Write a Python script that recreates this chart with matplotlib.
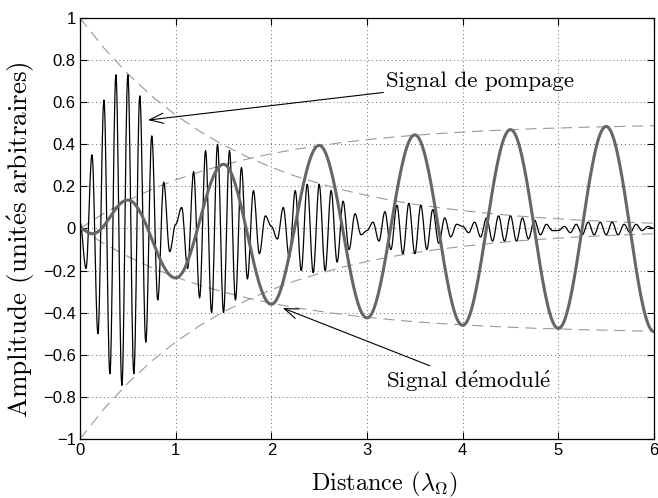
import matplotlib.pyplot as plt
import numpy as np

plt.rcParams['mathtext.fontset'] = 'cm'
plt.rcParams['font.family'] = ['Liberation Sans', 'DejaVu Sans']

# dashed envelopes, sampled every quarter wavelength
env_x = np.linspace(0, 6, 25)
env_decay = [1.00, 0.857, 0.735, 0.629, 0.539, 0.462, 0.396, 0.340, 0.291,
             0.249, 0.214, 0.183, 0.157, 0.134, 0.115, 0.099, 0.085, 0.073,
             0.062, 0.053, 0.046, 0.039, 0.034, 0.029, 0.025]
env_grow = [0.0, 0.072, 0.133, 0.186, 0.231, 0.269, 0.302, 0.330, 0.355,
            0.376, 0.393, 0.409, 0.422, 0.433, 0.443, 0.451, 0.458, 0.464,
            0.469, 0.474, 0.477, 0.481, 0.483, 0.486, 0.488]

# pump signal: one extremum every half carrier period (1/16 of lambda)
pump_step = 1.0 / 16
pump_ext = [
    0.03, -0.19, 0.35, -0.50, 0.61, -0.69, 0.73, -0.745, 0.73, -0.69, 0.63, -0.54, 0.44, -0.34, 0.22, -0.11,
    0.02, 0.10, -0.19, 0.27, -0.33, 0.37, -0.40, 0.40, -0.40, 0.37, -0.34, 0.29, -0.24, 0.18, -0.12, 0.06,
    0.01, -0.05, 0.10, -0.14, 0.18, -0.20, 0.21, -0.21, 0.21, -0.20, 0.18, -0.16, 0.13, -0.10, 0.07, -0.03,
    -0.01, 0.03, -0.06, 0.08, -0.10, 0.11, -0.12, 0.12, -0.12, 0.11, -0.10, 0.09, -0.07, 0.05, -0.04, 0.02,
    0.01, -0.02, 0.03, -0.04, 0.05, -0.06, 0.06, -0.06, 0.06, -0.06, 0.05, -0.05, 0.04, -0.03, 0.02, -0.01,
    -0.01, 0.01, -0.02, 0.02, -0.03, 0.03, -0.03, 0.03, -0.03, 0.03, -0.03, 0.02, -0.02, 0.02, -0.01, 0.01,
    0.0,
]

# demodulated signal extrema
demod_x = [0, 0.13, 0.5, 1, 1.5, 2, 2.5, 3, 3.5, 4, 4.5, 5, 5.5, 6]
demod_y = [0, -0.025, 0.135, -0.235, 0.305, -0.36, 0.395, -0.425, 0.445,
           -0.46, 0.47, -0.475, 0.485, -0.49]


def through_extrema(xs, ys, n=14):
    # join successive extrema with half-cosine arcs
    px, py = [xs[0]], [ys[0]]
    t = np.linspace(0, 1, n)[1:]
    for i in range(len(xs) - 1):
        a, b = ys[i], ys[i + 1]
        px.extend(xs[i] + (xs[i + 1] - xs[i]) * t)
        py.extend(a + (b - a) * (1 - np.cos(np.pi * t)) / 2)
    return np.array(px), np.array(py)


pump_x = [i * pump_step for i in range(len(pump_ext))]
px, py = through_extrema(pump_x, pump_ext)
dx, dy = through_extrema(demod_x, demod_y, n=40)

fig = plt.figure(figsize=(6.58, 4.98), dpi=100)
ax = fig.add_axes([0.1216, 0.1185, 0.8723, 0.8454])

env_style = dict(color='0.6', lw=0.8, dashes=(10, 6))
ax.plot(env_x, env_decay, **env_style)
ax.plot(env_x, -np.array(env_decay), **env_style)
ax.plot(env_x, env_grow, **env_style)
ax.plot(env_x, -np.array(env_grow), **env_style)

ax.plot(px, py, color='k', lw=0.9)
ax.plot(dx, dy, color='0.4', lw=2.2)

ax.set_xlim(0, 6)
ax.set_ylim(-1, 1)
ax.set_xticks(range(0, 7))
ax.set_yticks(np.round(np.arange(-1, 1.01, 0.2), 1))
ax.set_yticklabels(['\u22121', '\u22120.8', '\u22120.6', '\u22120.4', '\u22120.2',
                    '0', '0.2', '0.4', '0.6', '0.8', '1'])
ax.tick_params(direction='in', length=5, width=0.8, top=True, right=True,
               labelsize=12, pad=3)
ax.grid(True, color='0.4', linestyle=(0, (1, 3)), lw=0.7)
for s in ax.spines.values():
    s.set_linewidth(0.9)

serif = ['cmr10', 'DejaVu Serif']
ax.set_xlabel(r'Distance ($\lambda_\Omega$)', family=serif, size=17.5)
ax.xaxis.set_label_coords(0.53, -0.107, transform=ax.transAxes)
ax.xaxis.label.set_va('center')
ax.set_ylabel(r'Amplitude (unit$\acute{\mathrm{e}}$s arbitraires)',
              family=serif, size=19.5)
ax.yaxis.set_label_coords(-0.102, 0.473, transform=ax.transAxes)
ax.yaxis.label.set_va('center')

arrow = dict(arrowstyle='->, head_length=0.6, head_width=0.22', color='k',
             lw=0.8, shrinkA=0, shrinkB=0)
ax.annotate('Signal de pompage', xy=(0.71, 0.515), xytext=(3.2, 0.70),
            ha='left', va='center', arrowprops=arrow, fontsize=16.5, family=serif)
ax.annotate(r'Signal d$\acute{\mathrm{e}}$modul$\acute{\mathrm{e}}$',
            xy=(2.12, -0.378), xytext=(3.2, -0.725),
            ha='left', va='center', arrowprops=arrow, fontsize=16.5, family=serif)

fig.savefig('out.png', dpi=100)
